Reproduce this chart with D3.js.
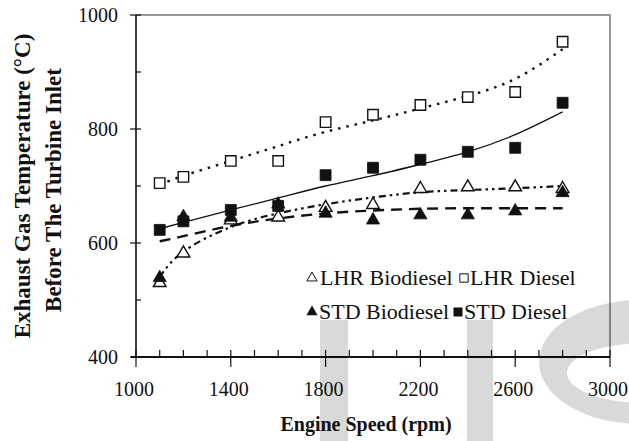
<!DOCTYPE html>
<html>

<head>
	<meta charset="UTF-8">
	<style>
		body {
			margin: 0;
			background: #fff;
		}

		svg text {
			font-family: "Liberation Serif", "Times New Roman", serif;
			fill: #111;
		}

		.title {
			font-weight: bold;
		}
	</style>
</head>

<body>
	<script src="https://cdn.jsdelivr.net/npm/d3@7"></script>

	<script>
		// engine speed (rpm) of the measured points
		const rpm = [1100, 1200, 1400, 1600, 1800, 2000, 2200, 2400, 2600, 2800];

		// measured exhaust gas temperatures (deg C)
		const lhrBiodiesel = [530, 582, 640, 645, 662, 667, 695, 698, 698, 695];
		const lhrDiesel    = [705, 716, 744, 744, 812, 825, 842, 856, 865, 953];
		const stdBiodiesel = [539, 646, 645, 668, 652, 640, 649, 649, 656, 688];
		const stdDiesel    = [623, 638, 658, 665, 719, 732, 746, 760, 767, 846];

		// trend curves as drawn in the figure
		const lhrBiodieselFit = [540, 585, 628, 652, 668, 680, 689, 693, 696, 700];
		const lhrDieselFit    = [702, 718, 744, 770, 795, 815, 836, 858, 888, 940];
		const stdBiodieselFit = [603, 612, 630, 643, 652, 657, 660, 661, 661, 661];
		const stdDieselFit    = [625, 636, 658, 679, 700, 718, 738, 760, 790, 830];

		const xTicks = [1000, 1400, 1800, 2200, 2600, 3000];
		const yTicks = [400, 600, 800, 1000];

		const width = 629;
		const height = 441;
		const serif = '"Liberation Serif", "Times New Roman", serif';

		const x = d3.scaleLinear().domain([1000, 3000]).range([136, 610]);
		const y = d3.scaleLinear().domain([400, 1000]).range([357, 15]);

		const svg = d3.select('body')
			.append('svg')
			.attr('width', width)
			.attr('height', height)
			.attr('font-family', serif);

		// frame (top + right)
		svg.append('path')
			.attr('d', `M${x(1000)},${y(1000)}H${x(3000)}V${y(400)}`)
			.attr('fill', 'none')
			.attr('stroke', '#777')
			.attr('stroke-width', 1.5);

		// x axis: major ticks cross, minor ticks inside
		const xAxis = svg.append('g').attr('transform', `translate(0,${y(400)})`);
		xAxis.append('line')
			.attr('x1', x(1000) - 5).attr('x2', x(3000))
			.attr('stroke', '#111').attr('stroke-width', 2.2);
		xAxis.selectAll('.minor')
			.data(d3.range(1000, 3001, 100))
			.enter().append('line')
				.attr('x1', d => x(d)).attr('x2', d => x(d))
				.attr('y1', -7).attr('y2', d => xTicks.includes(d) ? 10 : 0)
				.attr('stroke', '#111').attr('stroke-width', 1.2);
		xAxis.selectAll('text')
			.data(xTicks)
			.enter().append('text')
				.attr('x', d => x(d) - 2)
				.attr('y', 39)
				.attr('text-anchor', 'middle')
				.style('font-size', '20px')
				.text(d => d);

		// y axis
		const yAxis = svg.append('g').attr('transform', `translate(${x(1000)},0)`);
		yAxis.append('line')
			.attr('y1', y(1000)).attr('y2', y(400))
			.attr('stroke', '#111').attr('stroke-width', 1.6);
		yAxis.selectAll('.tick')
			.data(d3.range(400, 1001, 100))
			.enter().append('line')
				.attr('y1', d => y(d)).attr('y2', d => y(d))
				.attr('x1', d => yTicks.includes(d) ? -6 : 0).attr('x2', 5)
				.attr('stroke', '#111').attr('stroke-width', 1.2);
		yAxis.selectAll('text')
			.data(yTicks)
			.enter().append('text')
				.attr('x', -18)
				.attr('y', d => y(d))
				.attr('dy', '0.35em')
				.attr('text-anchor', 'end')
				.style('font-size', '20px')
				.text(d => d);

		// axis titles
		svg.append('text')
			.attr('class', 'title')
			.attr('x', 366).attr('y', 431)
			.attr('text-anchor', 'middle')
			.style('font-size', '20px')
			.text('Engine Speed (rpm)');

		svg.append('text')
			.attr('class', 'title')
			.attr('transform', 'translate(30,186) rotate(-90)')
			.attr('text-anchor', 'middle')
			.style('font-size', '23px')
			.text('Exhaust Gas Temperature (°C)');

		svg.append('text')
			.attr('class', 'title')
			.attr('transform', 'translate(61,190) rotate(-90)')
			.attr('text-anchor', 'middle')
			.style('font-size', '23px')
			.text('Before The Turbine Inlet');

		// trend curves
		const line = d3.line()
			.x((d, i) => x(rpm[i]))
			.y(d => y(d))
			.curve(d3.curveNatural);

		const fits = [
			{values: stdDieselFit, dash: null, w: 1.3},
			{values: stdBiodieselFit, dash: '11,7', w: 2.4},
			{values: lhrBiodieselFit, dash: '7,4,2.5,4,2.5,4', w: 2.2},
			{values: lhrDieselFit, dash: '2.5,6', w: 2.4}
		];

		svg.append('g')
			.selectAll('path')
			.data(fits)
			.enter().append('path')
				.attr('d', d => line(d.values))
				.attr('fill', 'none')
				.attr('stroke', '#111')
				.attr('stroke-width', d => d.w)
				.attr('stroke-dasharray', d => d.dash);

		// markers
		const series = [
			{values: lhrBiodiesel, type: d3.symbolTriangle, filled: false, size: 70},
			{values: stdBiodiesel, type: d3.symbolTriangle, filled: true, size: 75},
			{values: lhrDiesel, type: d3.symbolSquare, filled: false, size: 110},
			{values: stdDiesel, type: d3.symbolSquare, filled: true, size: 120}
		];

		series.forEach(s => {
			svg.append('g')
				.selectAll('path')
				.data(s.values)
				.enter().append('path')
					.attr('transform', (d, i) => `translate(${x(rpm[i])},${y(d)})`)
					.attr('d', d3.symbol().type(s.type).size(s.size))
					.attr('fill', s.filled ? '#111' : '#fff')
					.attr('stroke', '#111')
					.attr('stroke-width', s.filled ? 0.8 : 1.4);
		});

		// legend
		const legend = [
			{label: 'LHR Biodiesel', type: d3.symbolTriangle, filled: false, sx: 312, tx: 320, ty: 285},
			{label: 'LHR Diesel', type: d3.symbolSquare, filled: false, sx: 464, tx: 470, ty: 285},
			{label: 'STD Biodiesel', type: d3.symbolTriangle, filled: true, sx: 312, tx: 319, ty: 319},
			{label: 'STD Diesel', type: d3.symbolSquare, filled: true, sx: 458, tx: 464, ty: 319}
		];

		const item = svg.append('g')
			.selectAll('g')
			.data(legend)
			.enter().append('g');

		item.append('path')
			.attr('transform', d => `translate(${d.sx},${d.ty - 7})`)
			.attr('d', d => d3.symbol().type(d.type).size(d.type === d3.symbolSquare ? 70 : 45)())
			.attr('fill', d => d.filled ? '#111' : '#fff')
			.attr('stroke', '#111')
			.attr('stroke-width', d => d.filled ? 0.6 : 1);

		item.append('text')
			.attr('x', d => d.tx)
			.attr('y', d => d.ty)
			.attr('font-family', serif)
			.style('font-size', '22px')
			.text(d => d.label);

		// faint watermark in the lower right
		const mark = svg.append('g')
			.attr('fill', '#000')
			.attr('fill-opacity', 0.15);
		mark.append('rect').attr('x', 320).attr('y', 320).attr('width', 28).attr('height', 121);
		mark.append('rect').attr('x', 467).attr('y', 320).attr('width', 26).attr('height', 121);
		mark.append('path')
			.attr('fill-rule', 'evenodd')
			.attr('d', 'M539,362a101,62 0 1,0 202,0a101,62 0 1,0 -202,0Z' +
				'M567,373a78,30 0 1,0 156,0a78,30 0 1,0 -156,0Z');
	</script>
</body>

</html>
